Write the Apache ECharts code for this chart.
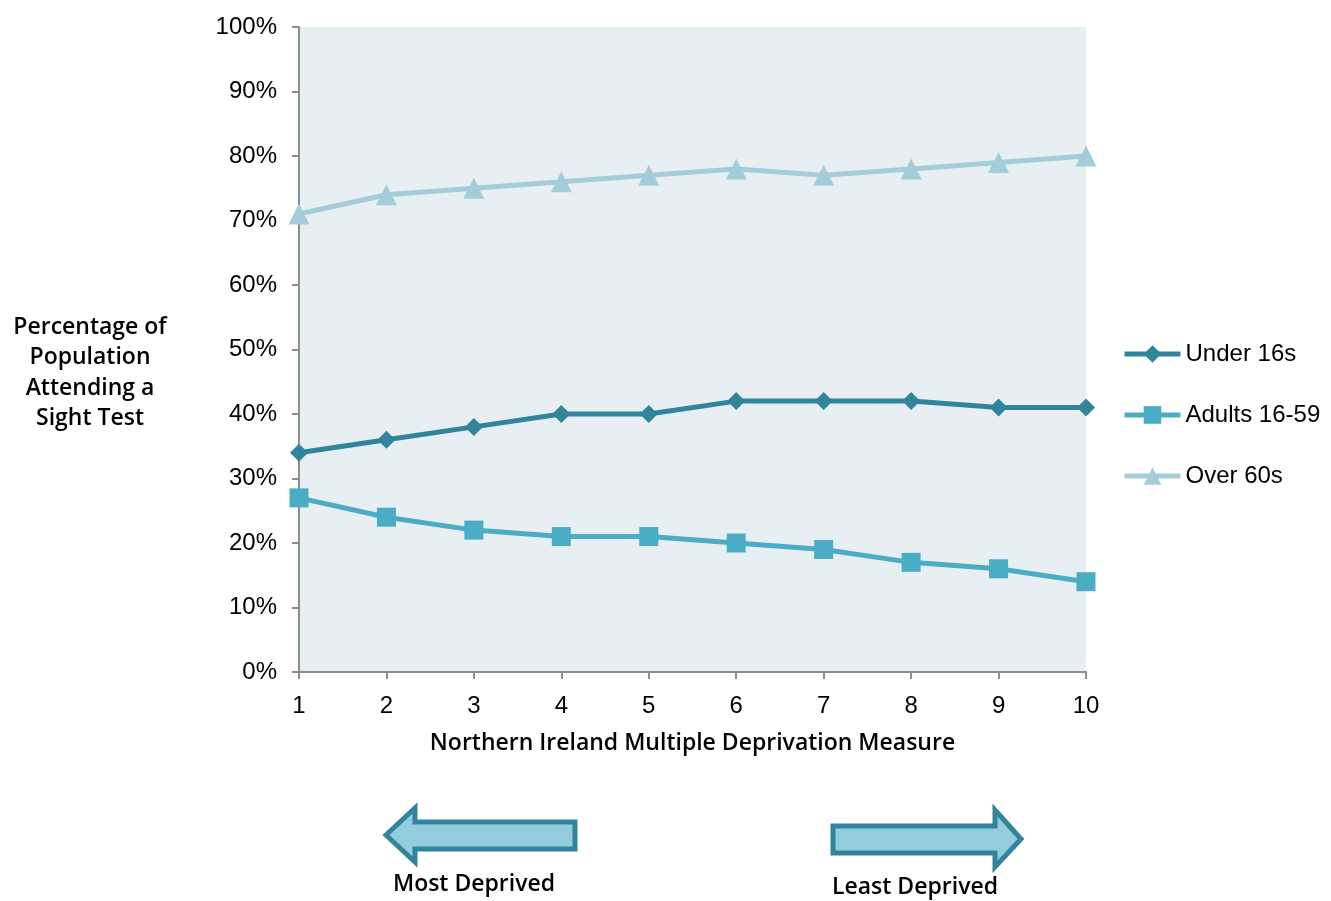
<!DOCTYPE html>
<html>
<head>
<meta charset="utf-8">
<script src="https://cdn.jsdelivr.net/npm/echarts@6/dist/echarts.min.js"></script>
<style>
  html, body { margin: 0; padding: 0; background: #fff; }
  #chart { width: 1331px; height: 901px; }
</style>
</head>
<body>
<div id="chart"></div>
<script>
// deprivation deciles 1 (most) .. 10 (least)
const deciles = ["1", "2", "3", "4", "5", "6", "7", "8", "9", "10"];
const under16 = [34, 36, 38, 40, 40, 42, 42, 42, 41, 41];
const adults = [27, 24, 22, 21, 21, 20, 19, 17, 16, 14];
const over60 = [71, 74, 75, 76, 77, 78, 77, 78, 79, 80];

const font = "'Liberation Sans', Arial, sans-serif";
const titleFont = "'Open Sans', 'Liberation Sans', sans-serif";

let myChart = echarts.init(document.getElementById("chart"));

function lineSeries(name, data, color, symbol, size) {
  return {
    name: name,
    type: "line",
    data: data,
    symbol: symbol,
    symbolSize: size,
    lineStyle: { color: color, width: 5 },
    itemStyle: { color: color },
    z: 3,
  };
}

const option = {
  animation: false,
  grid: { left: 299, right: 245, top: 27, bottom: 229,
    show: true, backgroundColor: "#e7eff3", borderWidth: 0 },
  legend: {
    orient: "vertical",
    left: 1117,
    top: 337,
    itemGap: 37,
    itemWidth: 56,
    itemHeight: 22,
    lineStyle: { width: 5 },
    textStyle: { fontFamily: font, fontSize: 24, color: "#000" },
    data: ["Under 16s", "Adults 16-59", "Over 60s"],
  },
  xAxis: {
    type: "category",
    boundaryGap: false,
    data: deciles,
    name: "Northern Ireland Multiple Deprivation Measure",
    nameLocation: "middle",
    nameGap: 60,
    nameTextStyle: { fontFamily: titleFont, fontSize: 23, fontWeight: 600, color: "#000" },
    axisLine: { lineStyle: { color: "#8c8c8c", width: 2 } },
    axisTick: { alignWithLabel: true, length: 7, lineStyle: { color: "#8c8c8c", width: 2 } },
    axisLabel: { fontFamily: font, fontSize: 24, color: "#000", margin: 22 },
    splitLine: { show: false },
  },
  yAxis: {
    type: "value",
    min: 0,
    max: 100,
    interval: 10,
    axisLine: { show: true, lineStyle: { color: "#8c8c8c", width: 2 } },
    axisTick: { show: true, length: 7, lineStyle: { color: "#8c8c8c", width: 2 } },
    axisLabel: { fontFamily: font, fontSize: 24, color: "#000", margin: 22, formatter: "{value}%" },
    splitLine: { show: false },
  },
  series: [
    lineSeries("Under 16s", under16, "#31849b", "diamond", 18),
    lineSeries("Adults 16-59", adults, "#4bacc6", "rect", 19),
    lineSeries("Over 60s", over60, "#a5cdd9", "triangle", 21),
  ],
  graphic: [
    {
      type: "text",
      x: 90,
      y: 312,
      style: {
        text: "Percentage of\nPopulation\nAttending a\nSight Test",
        fontFamily: titleFont,
        fontSize: 23,
        fontWeight: 600,
        lineHeight: 30.5,
        fill: "#000",
        align: "center",
        textAlign: "center",
      },
    },
    {
      type: "polygon",
      shape: { points: [[386, 835], [415, 808], [415, 822], [575, 822], [575, 849], [415, 849], [415, 862]] },
      style: { fill: "#93cddd", stroke: "#31849b", lineWidth: 5 },
    },
    {
      type: "polygon",
      shape: { points: [[833, 826], [995, 826], [995, 810], [1021, 839], [995, 867], [995, 853], [833, 853]] },
      style: { fill: "#93cddd", stroke: "#31849b", lineWidth: 5 },
    },
    {
      type: "text",
      x: 474,
      y: 873,
      style: { text: "Most Deprived", fontFamily: titleFont, fontSize: 23, fontWeight: 600, fill: "#000", align: "center", textAlign: "center" },
    },
    {
      type: "text",
      x: 915,
      y: 876,
      style: { text: "Least Deprived", fontFamily: titleFont, fontSize: 23, fontWeight: 600, fill: "#000", align: "center", textAlign: "center" },
    },
  ],
};

option && myChart.setOption(option);
</script>
</body>
</html>
